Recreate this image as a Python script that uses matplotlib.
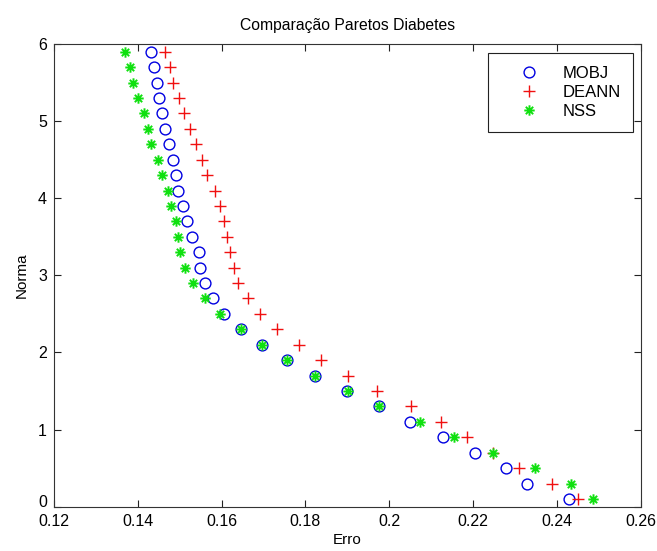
import matplotlib
matplotlib.use("Agg")
import matplotlib.pyplot as plt
import matplotlib.transforms as mtransforms
from matplotlib.path import Path

plt.rcParams['font.family'] = ['Liberation Sans', 'DejaVu Sans']

norma = [5.9, 5.7, 5.5, 5.3, 5.1, 4.9, 4.7, 4.5, 4.3, 4.1,
         3.9, 3.7, 3.5, 3.3, 3.1, 2.9, 2.7, 2.5, 2.3, 2.1,
         1.9, 1.7, 1.5, 1.3, 1.1, 0.9, 0.7, 0.5, 0.3, 0.1]

erro_mobj = [0.1431, 0.1439, 0.1445, 0.1451, 0.1458, 0.1465, 0.1474, 0.1483, 0.1491, 0.1497,
             0.1507, 0.1517, 0.1529, 0.1545, 0.1548, 0.1561, 0.1579, 0.1606, 0.1646, 0.1697,
             0.1755, 0.1823, 0.1898, 0.1975, 0.2049, 0.2129, 0.2204, 0.2278, 0.2329, 0.2429]

erro_deann = [0.1465, 0.1477, 0.1483, 0.1498, 0.1510, 0.1525, 0.1539, 0.1552, 0.1564, 0.1584,
              0.1596, 0.1606, 0.1612, 0.1620, 0.1630, 0.1638, 0.1662, 0.1692, 0.1733, 0.1785,
              0.1836, 0.1901, 0.1971, 0.2052, 0.2123, 0.2185, 0.2247, 0.2310, 0.2388, 0.2451]

erro_nss = [0.1369, 0.1381, 0.1389, 0.1400, 0.1415, 0.1425, 0.1431, 0.1447, 0.1457, 0.1471,
            0.1479, 0.1490, 0.1495, 0.1501, 0.1513, 0.1532, 0.1561, 0.1596, 0.1646, 0.1696,
            0.1755, 0.1823, 0.1901, 0.1976, 0.2073, 0.2155, 0.2247, 0.2348, 0.2433, 0.2487]

xticks = [0.12, 0.14, 0.16, 0.18, 0.20, 0.22, 0.24, 0.26]
xticklabels = ['0.12', '0.14', '0.16', '0.18', '0.2', '0.22', '0.24', '0.26']
yticks = [0, 1, 2, 3, 4, 5, 6]

# matlab-like asterisk marker (plus + cross, no fill)
d = 0.7071
asterisk = Path(
    [(-1, 0), (1, 0), (0, -1), (0, 1), (-d, -d), (d, d), (-d, d), (d, -d)],
    [Path.MOVETO, Path.LINETO] * 4)

fig = plt.figure(figsize=(6.57, 5.51), dpi=100)
ax = fig.add_axes([0.0822, 0.0804, 0.8930, 0.8397])

ax.plot(erro_mobj, norma, linestyle='none', marker='o', markersize=7.8,
        markerfacecolor='none', markeredgecolor='#0000e0', markeredgewidth=1.0, label='MOBJ')
ax.plot(erro_deann, norma, linestyle='none', marker='+', markersize=8,
        markeredgecolor='#f01010', markeredgewidth=1.0, label='DEANN')
ax.plot(erro_nss, norma, linestyle='none', marker=asterisk, markersize=7.5,
        fillstyle='none', markeredgecolor='#10e010', markeredgewidth=1.4, label='NSS')

ax.set_xlim(0.12, 0.26)
ax.set_ylim(0, 6)
ax.set_xticks(xticks)
ax.set_xticklabels(xticklabels)
ax.set_yticks(yticks)
ax.tick_params(direction='in', length=5, width=0.8, top=True, right=True,
               labelsize=11.5, color='#222222')
ax.tick_params(axis='x', pad=5)
ax.tick_params(axis='y', pad=5)
for s in ax.spines.values():
    s.set_linewidth(0.8)
    s.set_color('#333333')

# lift the "0" a little so it clears the 0.12 below it
lbl0 = ax.get_yticklabels()[0]
lbl0.set_transform(lbl0.get_transform() +
                   mtransforms.ScaledTranslation(0, 4 / 72, fig.dpi_scale_trans))

ax.set_title('Comparação Paretos Diabetes', fontsize=11.3, pad=10)
ax.set_xlabel('Erro', fontsize=11, labelpad=3)
ax.set_ylabel('Norma', fontsize=11, labelpad=7)

leg = ax.legend(loc='upper right', bbox_to_anchor=(633.3 / 657, (551 - 53.3) / 551),
                bbox_transform=fig.transFigure, borderaxespad=0, fontsize=12,
                handlelength=3.4, handletextpad=0.3, borderpad=0.75, labelspacing=0.25,
                fancybox=False, framealpha=1, edgecolor='#222222')
leg.get_frame().set_linewidth(0.8)

fig.savefig('out.png', dpi=100)
